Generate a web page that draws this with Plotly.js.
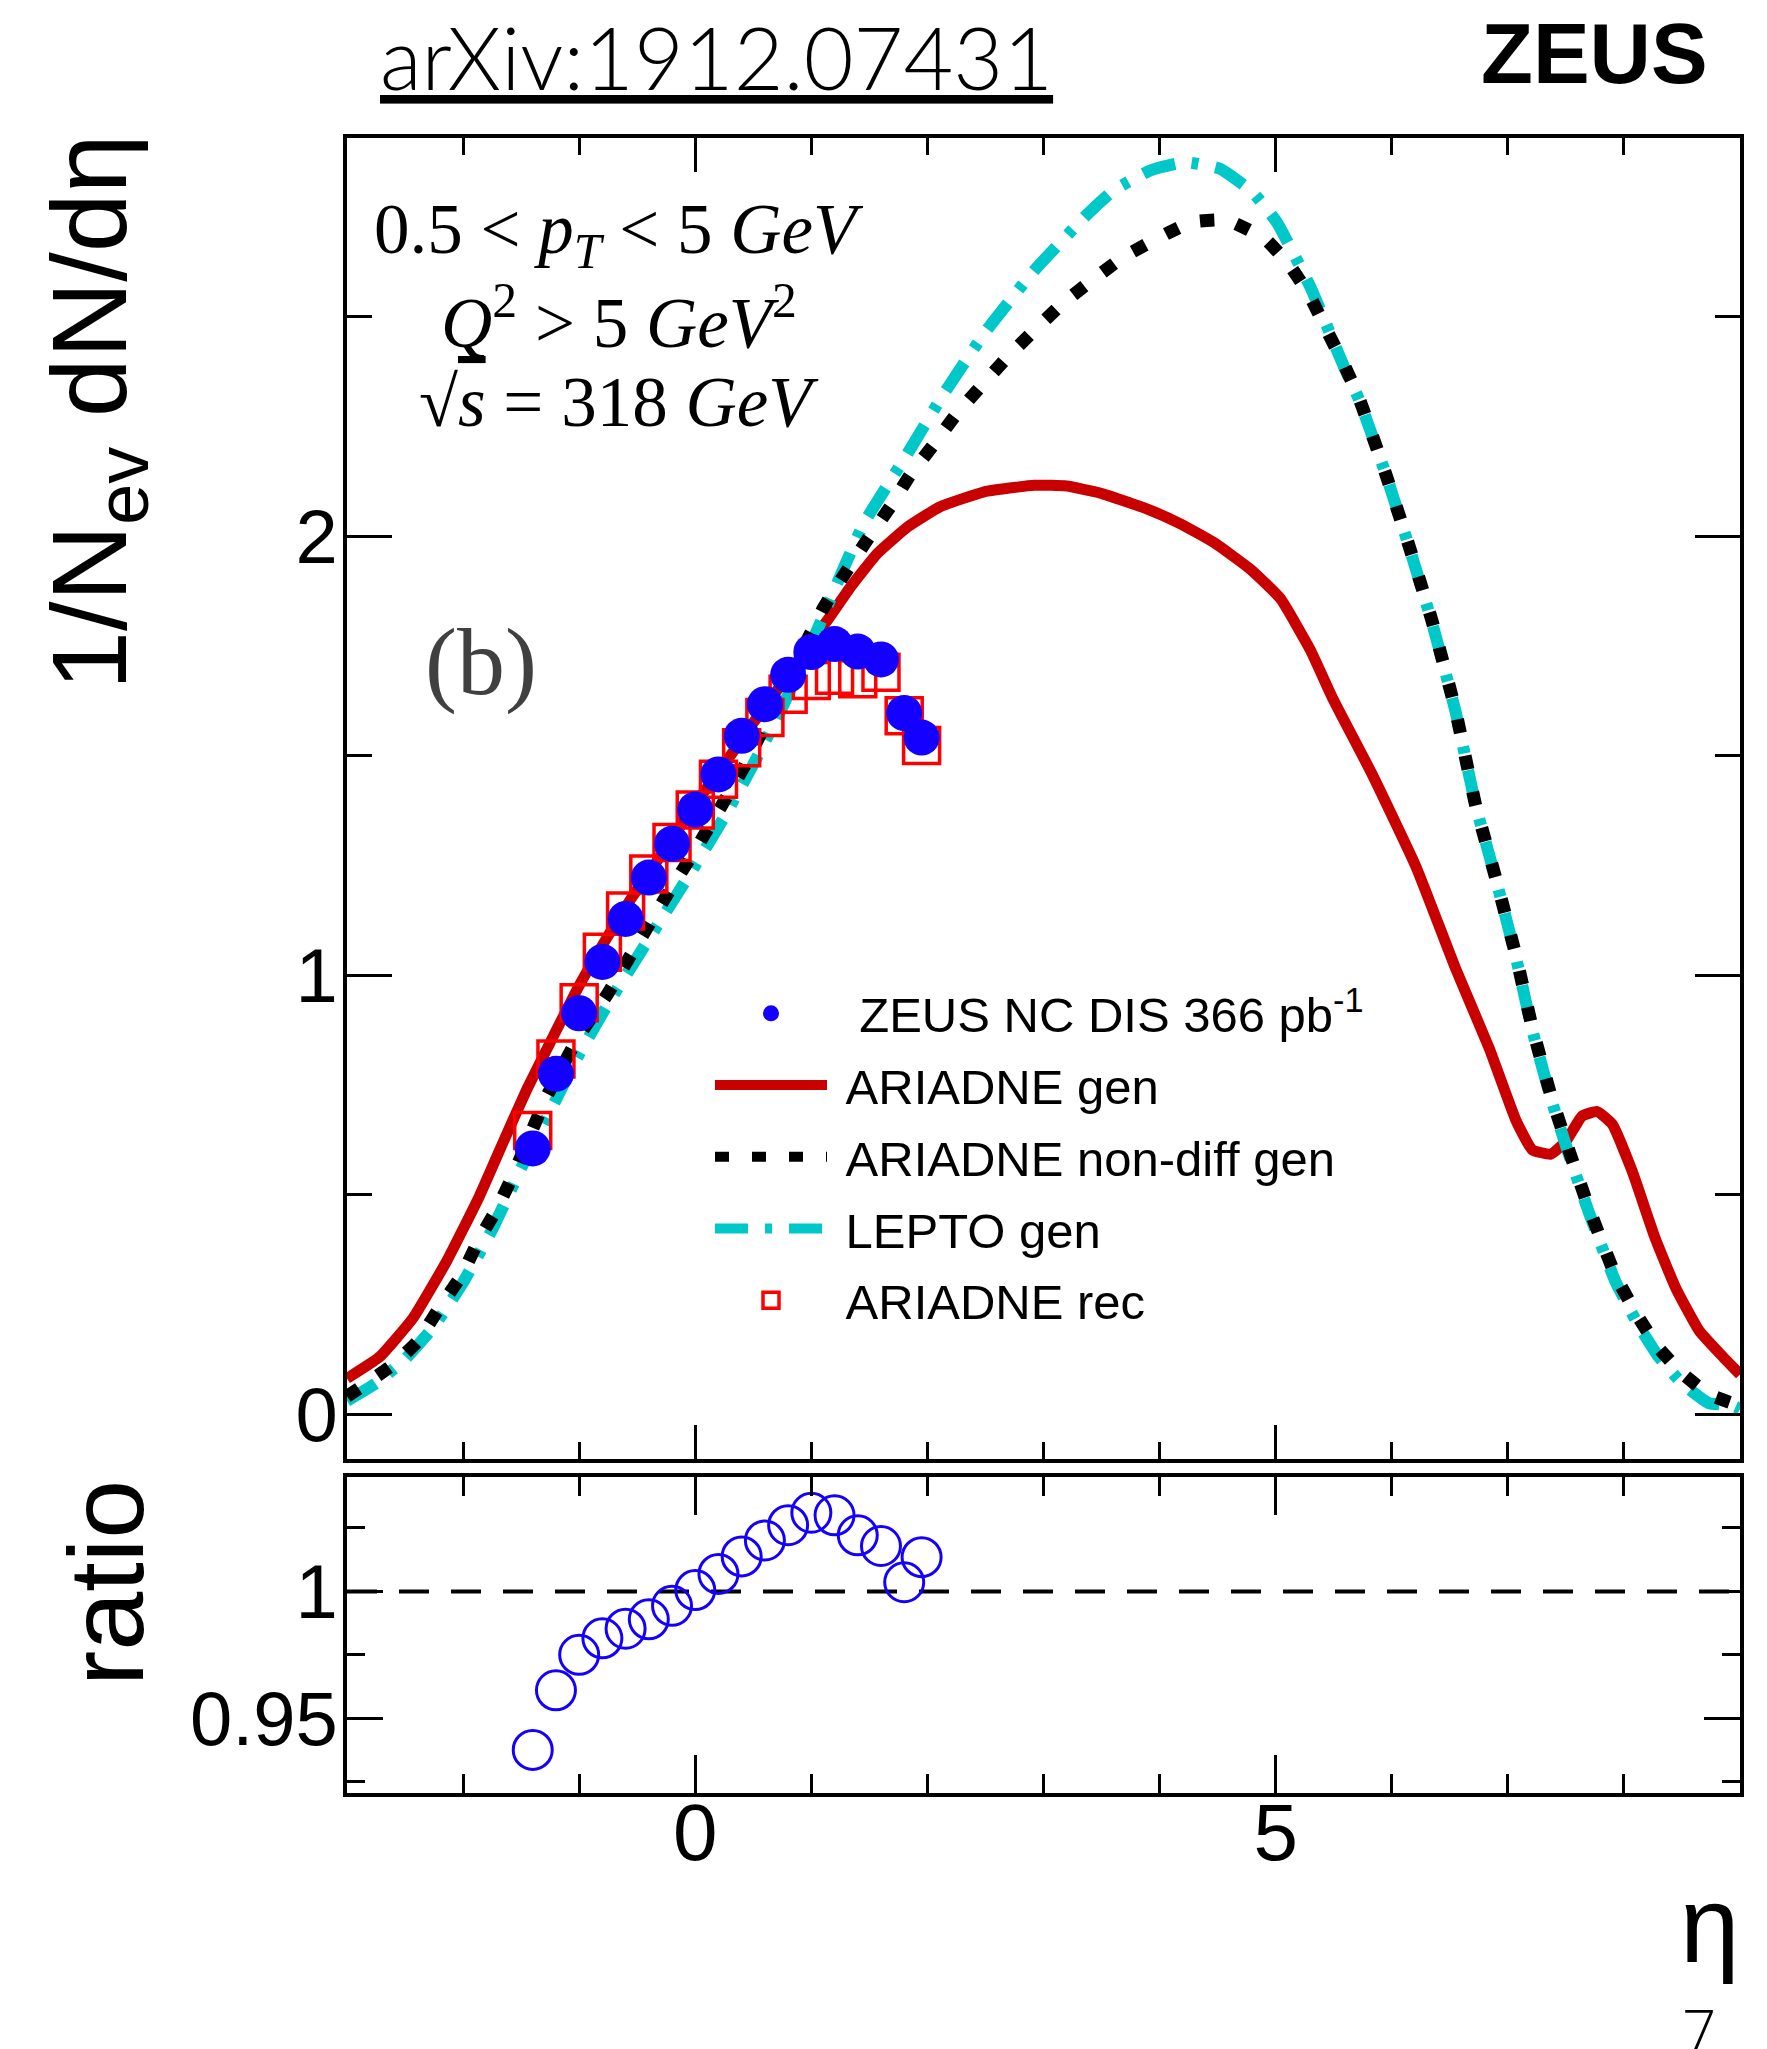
<!DOCTYPE html>
<html><head><meta charset="utf-8">
<script src="https://cdn.plot.ly/plotly-3.0.1.min.js"></script>
<style>html,body{margin:0;padding:0;background:#fff}#plot{width:1767px;height:2049px}</style>
</head><body><div id="plot"></div>
<script>
// ---------- data ----------
const etaData = [-1.4,-1.2,-1.0,-0.8,-0.6,-0.4,-0.2,0.0,0.2,0.4,0.6,0.8,1.0,1.2,1.4,1.6,1.8,1.95];
const zeusY   = [0.605,0.775,0.913,1.030,1.128,1.222,1.299,1.377,1.457,1.545,1.617,1.684,1.736,1.754,1.737,1.719,1.597,1.541];
const recY    = [0.646,0.809,0.937,1.052,1.146,1.230,1.302,1.376,1.446,1.518,1.587,1.640,1.671,1.683,1.675,1.690,1.591,1.523];
const ratioY  = [0.9375,0.961,0.975,0.9815,0.9853,0.989,0.9943,1.0005,1.0069,1.0138,1.0201,1.0261,1.031,1.030,1.0221,1.0179,1.0036,1.0135];

const ariX = [-3.0,-2.72,-2.43,-2.14,-1.86,-1.63,-1.45,-1.22,-1.0,-0.77,-0.56,-0.25,0.0,0.25,0.5,0.75,1.0,1.14,1.34,1.57,1.83,2.11,2.49,2.92,3.2,3.49,3.89,4.18,4.47,4.78,5.04,5.3,5.49,5.83,6.21,6.55,6.84,7.07,7.21,7.37,7.5,7.64,7.77,7.9,8.07,8.27,8.45,8.65,8.85,9.0];
const ariY = [0.081,0.13,0.219,0.349,0.496,0.634,0.74,0.862,0.976,1.081,1.171,1.29,1.39,1.48,1.575,1.665,1.76,1.809,1.885,1.961,2.021,2.067,2.101,2.116,2.114,2.098,2.062,2.028,1.985,1.925,1.858,1.74,1.631,1.458,1.246,1.015,0.833,0.669,0.602,0.592,0.621,0.679,0.689,0.660,0.554,0.40,0.285,0.189,0.131,0.09];

const ndX = [-3.0,-2.6,-2.39,-2.2,-2.01,-1.87,-1.71,-1.57,-1.28,-1.0,-0.77,-0.5,-0.25,0.0,0.22,0.42,0.7,0.9,1.11,1.31,1.48,1.68,1.85,2.05,2.25,2.69,3.16,3.69,4.27,4.58,4.91,5.12,5.29,5.44,5.59,5.72,5.95,6.15,6.35,6.55,6.72,6.9,7.07,7.21,7.37,7.5,7.7,7.93,8.13,8.3,8.5,8.73,8.93,9.0];
const ndY = [0.04,0.113,0.166,0.244,0.317,0.394,0.467,0.544,0.723,0.862,0.951,1.07,1.18,1.285,1.383,1.474,1.623,1.729,1.839,1.923,1.991,2.067,2.139,2.207,2.278,2.408,2.529,2.636,2.715,2.72,2.677,2.617,2.549,2.469,2.39,2.313,2.14,1.977,1.804,1.602,1.39,1.217,1.044,0.881,0.727,0.621,0.468,0.314,0.218,0.15,0.093,0.045,0.025,0.02];

const lepX = [-3.0,-2.75,-2.5,-2.25,-2.0,-1.75,-1.5,-1.25,-1.0,-0.75,-0.5,-0.25,0.0,0.25,0.5,0.75,1.0,1.22,1.45,1.81,2.14,2.51,2.92,3.38,3.6,3.92,4.22,4.52,4.8,5.01,5.3,5.59,5.72,5.95,6.15,6.35,6.55,6.72,6.9,7.07,7.21,7.37,7.5,7.7,7.93,8.13,8.3,8.5,8.73,8.93,9.0];
const lepY = [0.03,0.07,0.125,0.2,0.3,0.42,0.56,0.69,0.82,0.935,1.04,1.145,1.25,1.36,1.48,1.61,1.755,1.891,2.028,2.18,2.324,2.469,2.605,2.734,2.787,2.833,2.852,2.837,2.784,2.715,2.567,2.385,2.31,2.14,1.975,1.80,1.60,1.39,1.215,1.04,0.875,0.72,0.612,0.458,0.30,0.2,0.13,0.07,0.025,0.02,0.012];

const legendNames = ['\u00a0\u00a0ZEUS NC DIS 366 pb<sup>-1</sup>','\u00a0ARIADNE gen','\u00a0ARIADNE non-diff gen','\u00a0LEPTO gen','\u00a0ARIADNE rec'];
const yTopTickVals = [0,1,2];
const yRatioTickVals = [0.95,1];
const xTickVals = [0,5];

// ---------- geometry ----------
const W=1767,H=2049,L=347,R=27,T=138,B=256;
const pw=W-L-R, ph=H-T-B;
const px = X => (X-L)/pw;
const py = Y => (H-B-Y)/ph;

const SANS = 'Liberation Sans, Arial, Helvetica, sans-serif';
const SERIF = 'Liberation Serif, Times New Roman, serif';
const BLUE = '#1400ff';

const traces = [
  {x:ariX,y:ariY,mode:'lines',name:legendNames[1],legendrank:2,legendgroup:'g2',
   line:{color:'#c80000',width:11,shape:'spline',smoothing:0.4},xaxis:'x',yaxis:'y'},
  {x:lepX,y:lepY,mode:'lines',name:legendNames[3],legendrank:4,legendgroup:'g4',
   line:{color:'#00c8c8',width:12,dash:'33px,17px,7px,17px',shape:'spline',smoothing:0.4},xaxis:'x',yaxis:'y'},
  {x:ndX,y:ndY,mode:'lines',name:legendNames[2],legendrank:3,legendgroup:'g3',
   line:{color:'#000000',width:13,dash:'14px,23px',shape:'spline',smoothing:0.4},xaxis:'x',yaxis:'y'},
  {x:etaData,y:recY,mode:'markers',name:legendNames[4],legendrank:5,legendgroup:'g5',
   marker:{symbol:'square-open',size:36,color:'#ff0000',line:{color:'#ff0000',width:3.5}},xaxis:'x',yaxis:'y'},
  {x:etaData,y:zeusY,mode:'markers',name:legendNames[0],legendrank:1,legendgroup:'g1',
   marker:{symbol:'circle',size:36,color:BLUE},xaxis:'x',yaxis:'y'},
  {x:etaData,y:ratioY,mode:'markers',name:'ratio',showlegend:false,
   marker:{symbol:'circle-open',size:39,color:BLUE,line:{color:BLUE,width:3}},xaxis:'x2',yaxis:'y2'}
];

const axBase = {showgrid:false,zeroline:false,showline:true,linewidth:4,linecolor:'#000',
  mirror:'ticks',ticks:'inside',tickwidth:3,tickcolor:'#000',
  tickfont:{family:SANS,size:76,color:'#000'}};

const layout = {
  width:W,height:H,margin:{l:L,r:R,t:T,b:B},
  paper_bgcolor:'#fff',plot_bgcolor:'#fff',
  showlegend:true,
  legend:{x:px(710),y:py(975),xanchor:'left',yanchor:'top',bgcolor:'rgba(0,0,0,0)',
    font:{family:SANS,size:49,color:'#000'},itemwidth:112,tracegroupgap:5,traceorder:'grouped'},
  xaxis:Object.assign({},axBase,{domain:[0,1],anchor:'y',range:[-3,9],showticklabels:false,
    tickmode:'array',tickvals:xTickVals,ticklen:34,
    minor:{dtick:1,tick0:0,ticklen:17,tickwidth:3,tickcolor:'#000',ticks:'inside'}}),
  yaxis:Object.assign({},axBase,{domain:[py(1459),1],anchor:'x',range:[-0.1025,2.907],
    tickmode:'array',tickvals:yTopTickVals,ticktext:['0','1','2'],ticklen:45,ticklabelstandoff:-10,
    minor:{dtick:0.5,tick0:0,ticklen:25,tickwidth:3,tickcolor:'#000',ticks:'inside'}}),
  xaxis2:Object.assign({},axBase,{domain:[0,1],anchor:'y2',range:[-3,9],matches:'x',
    tickmode:'array',tickvals:xTickVals,ticktext:['0','5'],ticklen:38,ticklabelstandoff:-33,
    tickfont:{family:SANS,size:80,color:'#000'},
    minor:{dtick:1,tick0:0,ticklen:19,tickwidth:3,tickcolor:'#000',ticks:'inside'}}),
  yaxis2:Object.assign({},axBase,{domain:[0,py(1477)],anchor:'x2',range:[0.9205,1.0451],
    tickmode:'array',tickvals:yRatioTickVals,ticktext:['0.95','1'],ticklen:36,ticklabelstandoff:-10,
    minor:{dtick:0.025,tick0:0.925,ticklen:18,tickwidth:3,tickcolor:'#000',ticks:'inside'}}),
  shapes:[{type:'line',xref:'x2',yref:'y2',x0:-3,x1:9,y0:1,y1:1,layer:'below',
    line:{color:'#000',width:4,dash:'30px,22px'}}],
  annotations:[
    {text:'<u>arXiv:1912.07431</u>',xref:'paper',yref:'paper',x:px(716),y:py(3),xanchor:'center',yanchor:'top',
     showarrow:false,font:{family:'Lato, Open Sans, sans-serif',size:86,color:'#000',weight:300}},
    {text:'<b>ZEUS</b>',xref:'paper',yref:'paper',x:px(1710),y:py(54),xanchor:'right',yanchor:'middle',
     showarrow:false,font:{family:SANS,size:85,color:'#000'}},
    {text:'0.5 &lt; <i>p</i><sub><i>T</i></sub> &lt; 5 <i>GeV</i>',xref:'paper',yref:'paper',x:px(619),y:py(234),xanchor:'center',yanchor:'middle',
     showarrow:false,font:{family:SERIF,size:71,color:'#000'}},
    {text:'<i>Q</i><sup>2</sup> &gt; 5 <i>GeV</i><sup>2</sup>',xref:'paper',yref:'paper',x:px(619),y:py(317),xanchor:'center',yanchor:'middle',
     showarrow:false,font:{family:SERIF,size:71,color:'#000'}},
    {text:'\u221A<span style="text-decoration:overline"><i>s</i></span> = 318 <i>GeV</i>',xref:'paper',yref:'paper',x:px(619),y:py(402),xanchor:'center',yanchor:'middle',
     showarrow:false,font:{family:SERIF,size:71,color:'#000'}},
    {text:'(b)',xref:'paper',yref:'paper',x:px(481),y:py(662),xanchor:'center',yanchor:'middle',
     showarrow:false,font:{family:SERIF,size:96,color:'#404040'}},
    {text:'1/N<sub>ev</sub> dN/d\u03b7',xref:'paper',yref:'paper',x:px(97),y:py(412),xanchor:'center',yanchor:'middle',textangle:-90,
     showarrow:false,font:{family:SANS,size:106,color:'#000'}},
    {text:'ratio',xref:'paper',yref:'paper',x:px(106),y:py(1583),xanchor:'center',yanchor:'middle',textangle:-90,
     showarrow:false,font:{family:SANS,size:106,color:'#000'}},
    {text:'\u03b7',xref:'paper',yref:'paper',x:px(1742),y:py(1925),xanchor:'right',yanchor:'middle',
     showarrow:false,font:{family:SANS,size:107,color:'#000'}},
    {text:'7',xref:'paper',yref:'paper',x:px(1699),y:py(1988),xanchor:'center',yanchor:'top',
     showarrow:false,font:{family:'Open Sans, DejaVu Sans, sans-serif',size:60,color:'#000',weight:300}}
  ]
};

Plotly.newPlot('plot',traces,layout,{staticPlot:true,displayModeBar:false});
</script></body></html>
